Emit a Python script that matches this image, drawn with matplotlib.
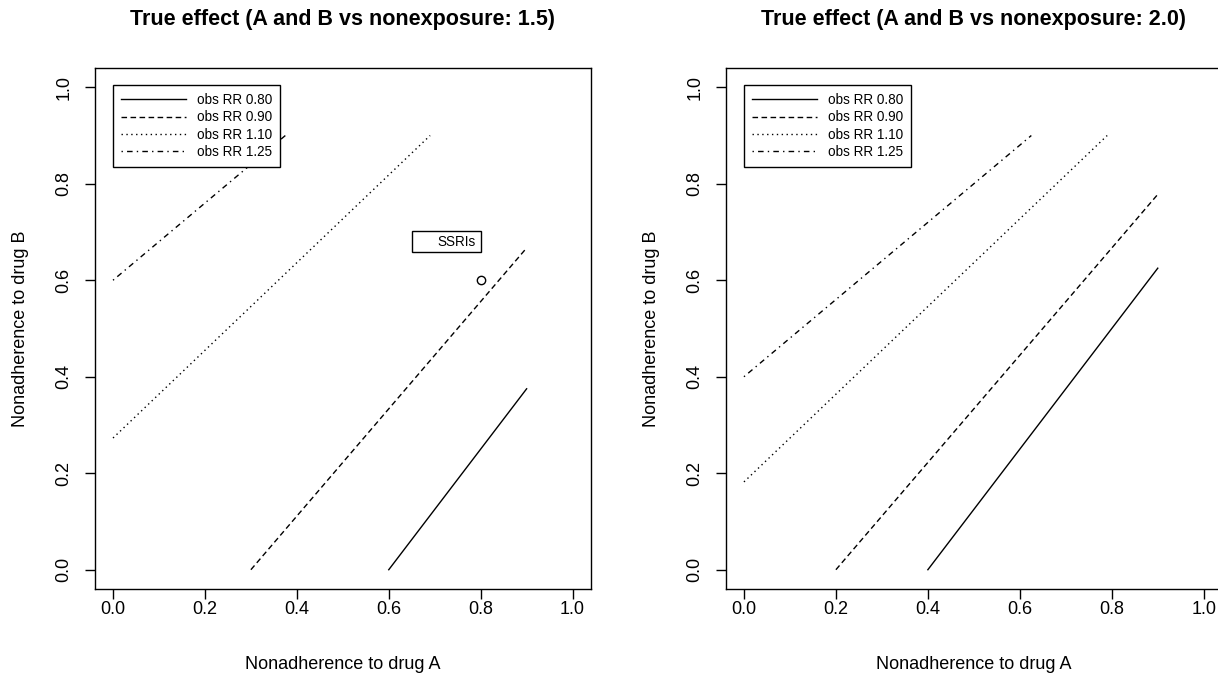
# contours.py
# Isolignes du RR observé selon la non-adhérence aux médicaments A et B

import numpy as np
import matplotlib.pyplot as plt
from matplotlib.patches import Rectangle

plt.rcParams['font.family'] = ['Liberation Sans', 'DejaVu Sans']

# 1) Données
niveaux = ['obs RR 0.80', 'obs RR 0.90', 'obs RR 1.10', 'obs RR 1.25']
titres = ['True effect (A and B vs nonexposure: 1.5)',
          'True effect (A and B vs nonexposure: 2.0)']

# extrémités des isolignes (x = non-adhérence A, y = non-adhérence B)
# effet vrai 1.5
x_15 = [[0.60, 0.90], [0.30, 0.90], [0.00, 0.69], [0.00, 0.375]]
y_15 = [[0.00, 0.375], [0.00, 0.667], [0.273, 0.90], [0.60, 0.90]]
# effet vrai 2.0
x_20 = [[0.40, 0.90], [0.20, 0.90], [0.00, 0.79], [0.00, 0.625]]
y_20 = [[0.00, 0.625], [0.00, 0.778], [0.182, 0.90], [0.40, 0.90]]

# point SSRIs (panneau de gauche)
ssri_x = [0.80]
ssri_y = [0.60]

# 2) Styles façon R (lty 1 à 4)
styles = ['-', (0, (4, 2.5)), (0, (1, 2.5)), (0, (1, 3, 4, 3))]
graduations = np.arange(0, 1.01, 0.2)

fig = plt.figure(figsize=(12.18, 6.75), dpi=100)
ax1 = fig.add_axes([0.0777, 0.1274, 0.4075, 0.7719])
ax2 = fig.add_axes([0.5957, 0.1274, 0.4077, 0.7719])

for ax, xs, ys, titre in [(ax1, x_15, y_15, titres[0]),
                          (ax2, x_20, y_20, titres[1])]:
    for x, y, ls, lab in zip(xs, ys, styles, niveaux):
        ax.plot(x, y, color='black', linewidth=1.0, linestyle=ls, label=lab)

    ax.set_xlim(-0.04, 1.04)
    ax.set_ylim(-0.04, 1.04)
    ax.set_xticks(graduations)
    ax.set_yticks(graduations)
    ax.set_xticklabels(['%.1f' % v for v in graduations])
    ax.set_yticklabels(['%.1f' % v for v in graduations],
                       rotation=90, va='center')
    ax.tick_params(direction='out', length=7, width=1, labelsize=13,
                   color='black')
    ax.tick_params(axis='x', pad=1.5)
    ax.tick_params(axis='y', pad=9)
    for s in ax.spines.values():
        s.set_linewidth(1.0)

    ax.set_title(titre, fontsize=15.5, fontweight='bold', pad=31)
    ax.set_xlabel('Nonadherence to drug A', fontsize=13)
    ax.set_ylabel('Nonadherence to drug B', fontsize=13)
    ax.xaxis.set_label_coords(0.5, -0.128)
    ax.yaxis.set_label_coords(-0.133, 0.5)

    leg = ax.legend(loc='upper left', bbox_to_anchor=(0.0, 1.005),
                    bbox_transform=ax.transData, borderaxespad=0,
                    fontsize=9.75, handlelength=4.8, handletextpad=0.8,
                    labelspacing=0.25, borderpad=0.6, fancybox=False,
                    edgecolor='black', framealpha=1)
    leg.get_frame().set_linewidth(1.0)

# 3) Annotation SSRIs
ax1.plot(ssri_x, ssri_y, marker='o', markersize=6, markerfacecolor='none',
         markeredgecolor='black', markeredgewidth=1, linestyle='none')
ax1.add_patch(Rectangle((0.651, 0.658), 0.15, 0.044, fill=False,
                        edgecolor='black', linewidth=1.0))
ax1.text(0.79, 0.680, 'SSRIs', ha='right', va='center', fontsize=9.75)

plt.savefig('out.png', dpi=100)
